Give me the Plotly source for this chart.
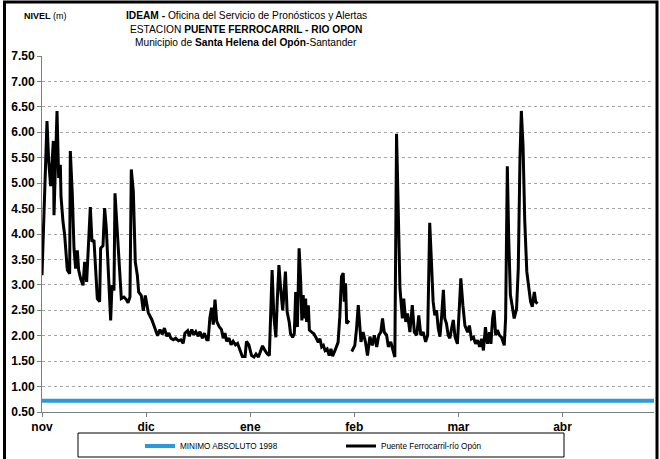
import plotly.graph_objects as go

# ---------------- data ----------------
meses = ["nov", "dic", "ene", "feb", "mar", "abr"]
dias_por_mes = 30.45
dias_eje = 179

minimo_absoluto_1998 = 0.72

# day offset from 1 Nov and river level (m); None marks a gap in the record
dia = [0.0, 1.46, 1.95, 2.53, 3.31, 3.51, 4.39, 4.87, 5.36, 5.56, 6.14, 6.63, 7.41, 8.09, 8.28, 8.87,
       9.36, 9.84, 10.33, 10.72, 11.31, 11.99, 12.48, 13.06, 14.13, 14.62, 15.2, 15.59, 16.18, 16.86,
       17.15, 17.84, 18.32, 18.81, 19.3, 19.69, 20.08, 20.47, 21.05, 21.35, 22.03, 22.61, 23.2, 23.98,
       24.66, 25.15, 25.73, 26.12, 26.71, 27.29, 27.88, 28.27, 29.04, 29.63, 30.21,
       31.1, 32.1, 33.0, 33.8, 34.5, 35.2, 35.8, 36.5, 37.1, 37.7, 38.4, 39.1, 39.9, 40.6, 41.3, 41.8,
       42.6, 43.1, 43.8, 44.4, 45.0, 45.7, 46.2, 46.9, 47.5, 48.2, 48.6, 49.1, 49.6, 50.1, 50.6, 51.1,
       51.8, 52.5, 53.0, 53.5, 54.0, 54.7, 55.3, 55.9, 56.6, 57.2, 57.9, 58.6, 59.4, 59.8, 60.5,
       61.3, 62.0, 62.6, 63.3, 63.9, 64.5, 65.2, 65.9, 66.5, 66.9, 67.3, 67.8, 68.4, 68.8, 69.3, 69.8,
       70.4, 70.8, 71.2, 71.7, 72.3, 72.7, 73.3, 73.8, 74.2, 74.7, 75.2, 75.7, 76.0, 76.4, 76.7, 77.1,
       77.4, 77.9, 78.2, 78.9, 79.5, 80.1, 80.8, 81.3, 81.8, 82.3, 82.8, 83.4, 84.0, 84.5, 85.0, 85.7,
       86.2, 86.6, 87.1, 87.6, 88.1, 88.4, 88.8, 89.1, 89.8, 90.2,
       90.6, 91.5, 92.0, 92.5,
       93.3, 93.9, 94.6, 95.2, 95.9, 96.6, 97.2, 97.9, 98.5, 99.1, 99.6, 100.1, 100.8, 101.3, 102.0,
       102.7, 103.2, 103.7, 104.2, 104.7, 105.4, 105.8, 106.4, 106.9, 107.6, 108.3, 108.9, 109.6, 110.2,
       110.8, 111.5, 112.2, 112.8, 113.4, 113.9, 114.4, 114.9, 115.4, 115.9, 116.4, 116.9, 117.4, 117.8,
       118.3, 118.8, 119.3, 119.8, 120.3, 120.8,
       121.5, 122.1, 122.5, 123.1, 123.7, 124.5, 125.0, 125.6, 126.2, 126.8, 127.4, 128.0, 128.6, 129.1,
       129.7, 130.3, 130.9, 131.3, 131.8, 132.2, 132.7, 133.2, 133.8, 134.4, 135.2, 135.6, 136.1, 136.5,
       137.0, 137.5, 138.1, 138.8, 139.3, 139.8, 140.2, 140.7, 141.2, 141.8, 142.4, 142.9, 143.4, 144.0,
       144.4, 144.9]

nivel = [3.19, 6.22, 5.43, 4.94, 5.83, 4.37, 6.42, 5.10, 5.36, 4.74, 4.24, 3.98, 3.29, 3.22, 5.63, 4.77,
         3.72, 3.32, 3.68, 3.29, 3.12, 2.99, 3.45, 3.06, 4.53, 3.85, 3.88, 3.45, 2.73, 2.67,
         3.72, 3.77, 4.51, 4.11, 3.32, 2.99, 2.30, 2.99, 2.89, 4.80, 3.98, 3.32, 2.73, 2.76,
         2.71, 2.65, 2.76, 5.27, 4.84, 3.45, 3.19, 2.86, 2.79, 2.49, 2.79,
         2.45, 2.32, 2.15, 2.00, 2.12, 2.03, 2.15, 1.99, 2.05, 1.95, 1.92, 1.95, 1.90, 1.92, 1.85, 2.05,
         2.10, 1.99, 2.12, 2.02, 2.08, 1.99, 2.08, 1.95, 2.05, 1.92, 1.92, 2.35, 2.55, 2.22, 2.71, 2.28,
         2.18, 2.12, 1.95, 2.05, 1.89, 1.95, 1.82, 1.89, 1.82, 1.85, 1.72, 1.59, 1.59, 1.89, 1.82,
         1.61, 1.58, 1.64, 1.58, 1.68, 1.80, 1.71, 1.64, 1.61, 2.53, 3.29, 2.40, 1.97, 2.67, 3.39, 2.93,
         2.50, 2.86, 3.26, 2.47, 2.27, 2.04, 1.97, 2.04, 2.86, 2.17, 3.72, 3.00, 2.30, 2.80, 2.34, 2.73,
         2.27, 2.60, 2.11, 2.07, 2.04, 1.97, 1.87, 1.94, 1.78, 1.81, 1.71, 1.74, 1.61, 1.74, 1.60, 1.71,
         1.81, 1.87, 2.37, 3.16, 3.23, 2.67, 3.03, 2.24, 2.30, None,
         1.69, 1.81, 2.14, 2.60,
         1.88, 2.07, 1.88, 1.61, 1.98, 1.81, 2.01, 1.78, 2.01, 2.07, 2.34, 2.07, 2.01, 1.78, 1.88,
         1.71, 1.58, 5.97, 4.72, 2.93, 2.34, 2.73, 2.27, 2.44, 2.07, 2.60, 2.07, 2.01, 2.40,
         2.01, 2.07, 1.88, 2.01, 4.22, 3.46, 2.67, 2.40, 2.50, 2.14, 1.98, 2.40, 2.90, 2.34,
         2.24, 2.01, 1.95, 2.14, 2.31, 1.98,
         1.84, 2.60, 3.13, 2.60, 2.20, 2.07, 2.20, 1.94, 1.97, 1.84, 1.91, 1.78, 1.94, 1.71,
         2.17, 1.84, 2.07, 1.84, 2.34, 2.50, 2.01, 2.11, 2.01, 1.97, 1.81, 2.34, 5.33, 3.92,
         2.80, 2.60, 2.34, 2.53, 3.32, 5.50, 6.42, 5.73, 4.25, 3.26, 2.86, 2.67, 2.57, 2.86,
         2.67, 2.63]

# ---------------- figure ----------------
FONT = "Liberation Sans, Arial, sans-serif"
W, H = 660, 459
ML, MR, MT, MB = 42, 6, 56, 47
pw, ph = W - ML - MR, H - MT - MB

def px_x(p):
    return (p - ML) / pw

def px_y(p):
    return (H - MB - p) / ph

fig = go.Figure()
fig.add_trace(go.Scatter(
    x=[0, dias_eje], y=[minimo_absoluto_1998, minimo_absoluto_1998],
    mode="lines", name="MINIMO ABSOLUTO 1998",
    line=dict(color="#2A9AD8", width=4)))
fig.add_trace(go.Scatter(
    x=dia, y=nivel, mode="lines", name="Puente Ferrocarril-río Opón",
    line=dict(color="black", width=3), connectgaps=False))

fig.update_layout(
    width=W, height=H,
    margin=dict(l=ML, r=MR, t=MT, b=MB, autoexpand=False),
    paper_bgcolor="white", plot_bgcolor="white",
    font=dict(family=FONT, color="black"),
    showlegend=True,
    legend=dict(orientation="h", x=px_x(140), xanchor="left",
                y=px_y(446), yanchor="middle",
                font=dict(size=8.2, family=FONT),
                entrywidth=156, entrywidthmode="pixels",
                bgcolor="rgba(0,0,0,0)", borderwidth=0,
                itemwidth=30, tracegroupgap=0),
)

fig.update_xaxes(
    range=[0, dias_eje], automargin=False,
    tickvals=[i * dias_por_mes for i in range(len(meses))],
    ticktext=meses,
    showgrid=False, zeroline=False,
    showline=True, linecolor="#7F7F7F", linewidth=1,
    ticks="outside", ticklen=4, tickcolor="#7F7F7F",
    tickfont=dict(size=12, family=FONT, color="black", weight="bold"),
)
fig.update_yaxes(
    range=[0.5, 7.5], dtick=0.5, tick0=0.5, tickformat=".2f", automargin=False,
    showgrid=True, gridcolor="#A6A6A6", griddash="dot", gridwidth=1,
    zeroline=False,
    showline=True, linecolor="#7F7F7F", linewidth=1,
    ticks="outside", ticklen=4, tickcolor="#7F7F7F",
    tickfont=dict(size=12, family=FONT, color="black", weight="bold"),
)

# titles
titulos = [
    "<b>IDEAM -</b> Oficina del Servicio de Pronósticos y Alertas",
    "ESTACION <b>PUENTE FERROCARRIL - RIO OPON</b>",
    "Municipio de <b>Santa Helena del Opón</b>-Santander",
]
for i, t in enumerate(titulos):
    fig.add_annotation(text=t, xref="paper", yref="paper",
                       x=px_x(246), y=px_y(16 + 13 * i), xanchor="center", yanchor="middle",
                       showarrow=False, font=dict(size=10.2, family=FONT, color="black"))
fig.add_annotation(text="<b>NIVEL</b> (m)", xref="paper", yref="paper",
                   x=px_x(22), y=px_y(16), xanchor="left", yanchor="middle",
                   showarrow=False, font=dict(size=9, family=FONT, color="black"))

# legend box and outer chart frame
fig.add_shape(type="rect", xref="paper", yref="paper",
              x0=px_x(78), x1=px_x(564), y0=px_y(457), y1=px_y(433),
              line=dict(color="black", width=1))
fig.add_shape(type="rect", xref="paper", yref="paper",
              x0=px_x(4.5), x1=px_x(657), y0=px_y(475), y1=px_y(2),
              line=dict(color="black", width=3))

fig.write_html("out.html",
               config={"displayModeBar": False},
               post_script="document.body.style.margin='0';document.body.style.overflow='hidden';")
